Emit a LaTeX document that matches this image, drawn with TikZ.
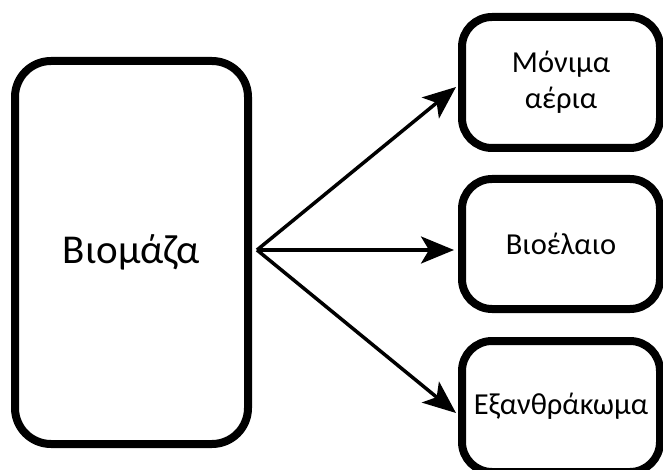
\documentclass[tikz,border=0pt]{standalone}
\usepackage{fontspec}
\setmainfont{Carlito}
\usetikzlibrary{arrows.meta,calc}
\begin{document}
\begin{tikzpicture}[x=1pt,y=-1pt,
  box/.style={draw=black,line width=8pt,fill=white,rounded corners=#1,
    align=center,inner sep=0pt},
  box/.default=30pt,
  link/.style={line width=3.5pt,-{Stealth[length=33pt,width=27pt,inset=8pt]}}]
\useasboundingbox (0,0) rectangle (663,470);
\clip (0,0) rectangle (663,470);
% source
\node[box=36pt,minimum width=233pt,minimum height=383pt,font=\fontsize{41}{49}\selectfont]
  (bio) at (131.5,252.5) {Βιομάζα};
% products
\node[box,minimum width=198pt,minimum height=131pt,font=\fontsize{30.5}{36}\selectfont]
  (gas) at (561,82.5) {Μόνιμα\\αέρια};
\node[box,minimum width=198pt,minimum height=130pt,font=\fontsize{30.5}{36}\selectfont]
  (oil) at (561,244) {Βιοέλαιο};
\node[box,minimum width=198pt,minimum height=131pt,font=\fontsize{30.5}{36}\selectfont]
  (char) at (561,406.5) {Εξανθράκωμα};
% connectors
\coordinate (src) at ($(bio.east)+(5,-2.5)$);
\draw[link] (src) -- ($(gas.west)+(-2,4.5)$);
\draw[link] (src) -- ($(oil.west)+(-4,6)$);
\draw[link] (src) -- ($(char.west)+(-2,6.5)$);
\end{tikzpicture}
\end{document}
